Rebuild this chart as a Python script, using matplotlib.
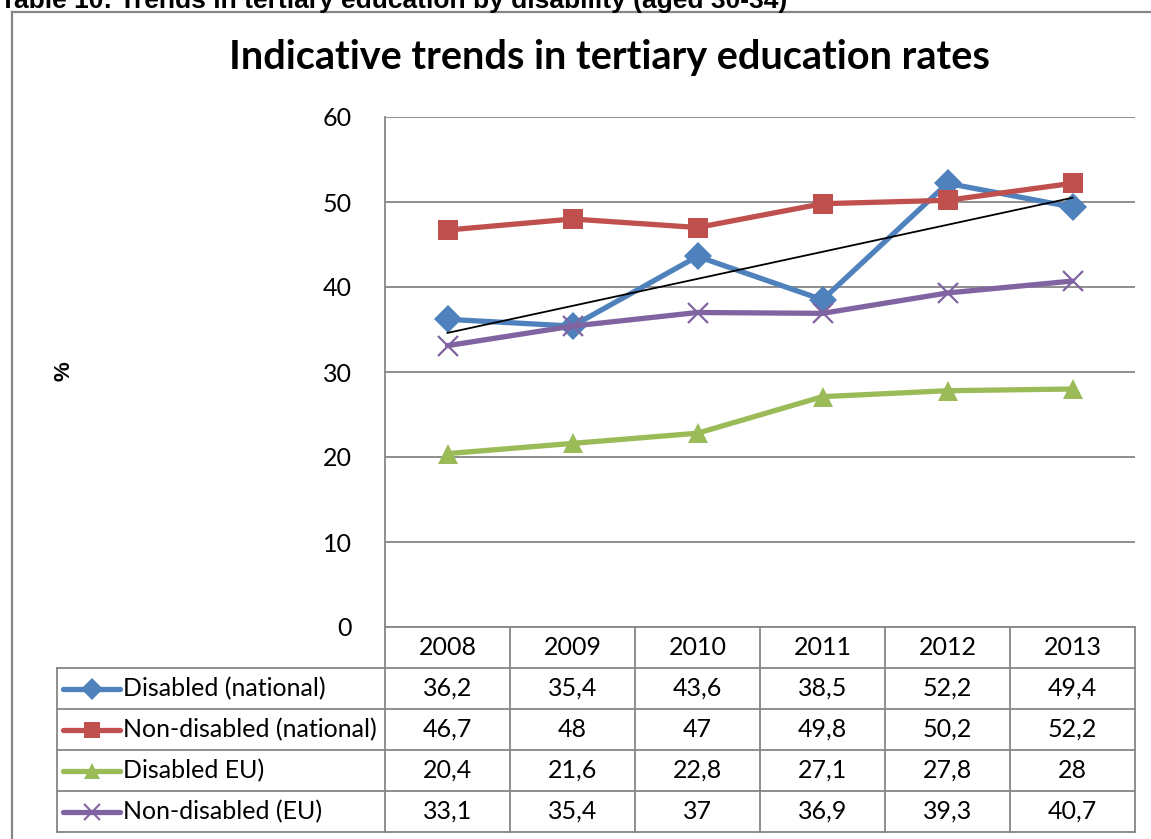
import numpy as np
import matplotlib.pyplot as plt
from matplotlib.lines import Line2D

plt.rcParams['font.family'] = ['Lato', 'DejaVu Sans']

years = ["2008", "2009", "2010", "2011", "2012", "2013"]
labels = ["Disabled (national)", "Non-disabled (national)", "Disabled EU)", "Non-disabled (EU)"]
disabled_nat = [36.2, 35.4, 43.6, 38.5, 52.2, 49.4]
nondisabled_nat = [46.7, 48, 47, 49.8, 50.2, 52.2]
disabled_eu = [20.4, 21.6, 22.8, 27.1, 27.8, 28]
nondisabled_eu = [33.1, 35.4, 37, 36.9, 39.3, 40.7]
cell_text = [["36,2", "35,4", "43,6", "38,5", "52,2", "49,4"],
             ["46,7", "48", "47", "49,8", "50,2", "52,2"],
             ["20,4", "21,6", "22,8", "27,1", "27,8", "28"],
             ["33,1", "35,4", "37", "36,9", "39,3", "40,7"]]

series = [disabled_nat, nondisabled_nat, disabled_eu, nondisabled_eu]
colors = ["#4F81BD", "#C0504D", "#9BBB59", "#8064A2"]
markers = ["D", "s", "^", "x"]
msizes = [14, 15, 15, 15]

W, H = 1151, 839
grid_col = "#868686"
fs = 18

fig = plt.figure(figsize=(W / 100, H / 100), dpi=100)

# outer frame (only top and left edges are in view)
fig.add_artist(Line2D([12 / W, 1], [1 - 12 / H, 1 - 12 / H], color=grid_col, lw=1.6))
fig.add_artist(Line2D([12 / W, 12 / W], [0, 1 - 12 / H], color=grid_col, lw=1.6))

fig.text(0, 1 - 8 / H, "Table 10: Trends in tertiary education by disability (aged 30-34)",
         family="Liberation Sans", weight="bold", fontsize=19, va="baseline", ha="left")
fig.text(609 / W, 1 - 58 / H, "Indicative trends in tertiary education rates",
         weight="bold", fontsize=28.5, ha="center", va="center")
fig.text(64 / W, 1 - 371 / H, "%", weight="bold", fontsize=16, rotation=90,
         ha="center", va="center", family="Liberation Sans")

# chart area
ax = fig.add_axes([385 / W, 1 - 627 / H, (1135 - 385) / W, (627 - 117) / H])
x = np.arange(len(years))
for ys, c, m, s in zip(series, colors, markers, msizes):
    ax.plot(x, ys, color=c, lw=3.8, marker=m, ms=s, mew=1.6 if m == "x" else 0,
            mec=c, solid_joinstyle="round", solid_capstyle="round", zorder=3)

# linear trend of the disabled (national) series
k, b = np.polyfit(x, disabled_nat, 1)
ax.plot(x, k * x + b, color="black", lw=1.3, zorder=4)

ax.set_xlim(-0.5, 5.5)
ax.set_ylim(0, 60)
ax.set_yticks(range(0, 61, 10))
ax.set_xticks([])
ax.tick_params(axis="y", length=0, pad=24, labelsize=fs)
ax.yaxis.grid(True, color=grid_col, lw=1.3)
ax.set_axisbelow(True)
for side in ["top", "right", "bottom"]:
    ax.spines[side].set_visible(False)
ax.spines["left"].set_color(grid_col)
ax.spines["left"].set_linewidth(1.3)

# data table under the chart
x0 = -0.5 - (385 - 57) / 125
tax = fig.add_axes([57 / W, 1 - 832 / H, (1135 - 57) / W, (832 - 627) / H])
tax.set_xlim(x0, 5.5)
tax.set_ylim(5, 0)
tax.axis("off")

tax.plot([-0.5, 5.5], [0, 0], color=grid_col, lw=1.3, clip_on=False)
for r in range(1, 6):
    tax.plot([x0, 5.5], [r, r], color=grid_col, lw=1.3, clip_on=False)
for cx in np.arange(-0.5, 6, 1):
    tax.plot([cx, cx], [0, 5], color=grid_col, lw=1.3, clip_on=False)
tax.plot([x0, x0], [1, 5], color=grid_col, lw=1.3, clip_on=False)

for i, yr in enumerate(years):
    tax.text(i, 0.5, yr, ha="center", va="center", fontsize=fs)
for r, (lab, row, c, m) in enumerate(zip(labels, cell_text, colors, markers)):
    yc = r + 1.5
    kx0 = x0 + (63 - 57) / 125
    kx1 = x0 + (120 - 57) / 125
    tax.plot([kx0, kx1], [yc, yc], color=c, lw=3.8, solid_capstyle="round", clip_on=False)
    tax.plot([(kx0 + kx1) / 2], [yc], color=c, marker=m, ms=11,
             mew=1.5 if m == "x" else 0, mec=c, clip_on=False)
    tax.text(x0 + (123 - 57) / 125, yc, lab, ha="left", va="center", fontsize=fs)
    for i, v in enumerate(row):
        tax.text(i, yc, v, ha="center", va="center", fontsize=fs)

fig.savefig("out.png", dpi=100)
